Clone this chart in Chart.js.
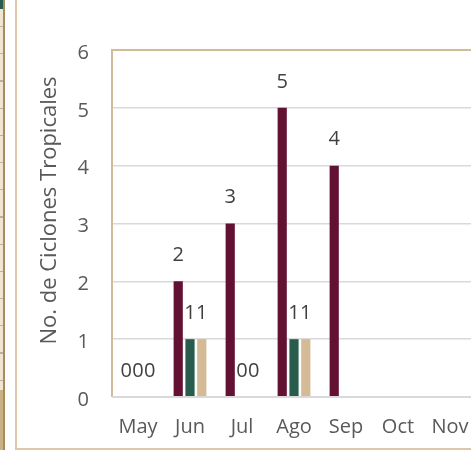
<!DOCTYPE html>
<html>
<head>
<meta charset="utf-8">
<script src="https://cdn.jsdelivr.net/npm/chart.js@4/dist/chart.umd.min.js"></script>
<style>
html,body{margin:0;padding:0;background:#fff;overflow:hidden;width:471px;height:450px}
#strip{position:absolute;left:0;top:0;width:3px;height:450px;
background:repeating-linear-gradient(#f1e5d2 0,#f1e5d2 26px,#b9b2a6 26px,#b9b2a6 27.2px);}
#stripTop{position:absolute;left:0;top:0;width:3px;height:9px;background:#285c4d}
#stripBot{position:absolute;left:0;top:390px;width:3px;height:60px;background:#cbb186}
#edge{position:absolute;left:3px;top:0;width:2px;height:450px;background:#a88a5e}
#frame{position:absolute;left:15px;top:0;width:470px;height:448px;border-left:2px solid #dcc7ab;border-bottom:2px solid #dcc7ab}
#wrap{position:absolute;left:17px;top:1px}
</style>
</head>
<body>
<div id="strip"></div><div id="stripTop"></div><div id="stripBot"></div><div id="edge"></div>
<div id="frame"></div>
<div id="wrap"><canvas id="c" width="480" height="447"></canvas></div>
<script>
const meses=['May','Jun','Jul','Ago','Sep','Oct','Nov'];
const tormentas=[0,2,3,5,4,null,null];
const huracanes=[0,1,0,1,null,null,null];
const intensos=[0,1,0,1,null,null,null];
const yTicks=[0,1,2,3,4,5,6];
const tituloY='No. de Ciclones Tropicales';

const txt='#595959';
const fam='"Open Sans", "DejaVu Sans", sans-serif';

// etiquetas encima de cada barra
const etiquetas={
id:'etiquetas',
afterDatasetsDraw(chart){
const ctx=chart.ctx;
ctx.save();
ctx.font='20px '+fam;
ctx.fillStyle='#404040';
ctx.textAlign='center';
ctx.textBaseline='middle';
chart.data.datasets.forEach((ds,i)=>{
chart.getDatasetMeta(i).data.forEach((el,j)=>{
const v=ds.data[j];
if(v===null||v===undefined)return;
ctx.fillText(String(v),el.x,el.y-26);
});
});
ctx.restore();
}
};

// borde del área de trazado + título del eje
const borde={
id:'borde',
afterDraw(chart){
const a=chart.chartArea,ctx=chart.ctx;
ctx.save();
ctx.strokeStyle='#d2bb98';
ctx.lineWidth=2;
ctx.beginPath();
ctx.moveTo(a.left,a.bottom);ctx.lineTo(a.left,a.top);ctx.lineTo(a.right,a.top);ctx.lineTo(a.right,a.bottom);
ctx.stroke();
ctx.strokeStyle='#d9d9d9';
ctx.beginPath();ctx.moveTo(a.left,a.bottom);ctx.lineTo(a.right,a.bottom);ctx.stroke();
ctx.translate(33,(a.top+a.bottom)/2-13);
ctx.rotate(-Math.PI/2);
ctx.font='22px '+fam;
ctx.fillStyle=txt;
ctx.textAlign='center';
ctx.textBaseline='middle';
ctx.fillText(tituloY,0,0);
ctx.restore();
}
};

new Chart(document.getElementById('c'),{
type:'bar',
data:{labels:meses,datasets:[
{label:'Tormentas tropicales',data:tormentas,backgroundColor:'#621133'},
{label:'Huracanes',data:huracanes,backgroundColor:'#285c4d'},
{label:'Huracanes intensos',data:intensos,backgroundColor:'#d5ba96'}
]},
options:{
responsive:false,animation:false,
categoryPercentage:0.68,barPercentage:0.78,
layout:{padding:{top:49,right:21,left:0,bottom:0}},
plugins:{legend:{display:false},tooltip:{enabled:false}},
scales:{
x:{grid:{display:false,drawTicks:false},border:{display:false},
ticks:{color:txt,font:{family:fam,size:20},padding:18,maxRotation:0},
afterFit(s){s.height=51;}},
y:{min:0,max:6,afterBuildTicks(s){s.ticks=yTicks.map(v=>({value:v}));},
grid:{color:'#d9d9d9',lineWidth:1.5,drawTicks:false},border:{display:false},
ticks:{color:txt,font:{family:fam,size:20},padding:23,labelOffset:3},
afterFit(s){s.width=95;}}
}
},
plugins:[etiquetas,borde]
});
</script>
</body>
</html>
